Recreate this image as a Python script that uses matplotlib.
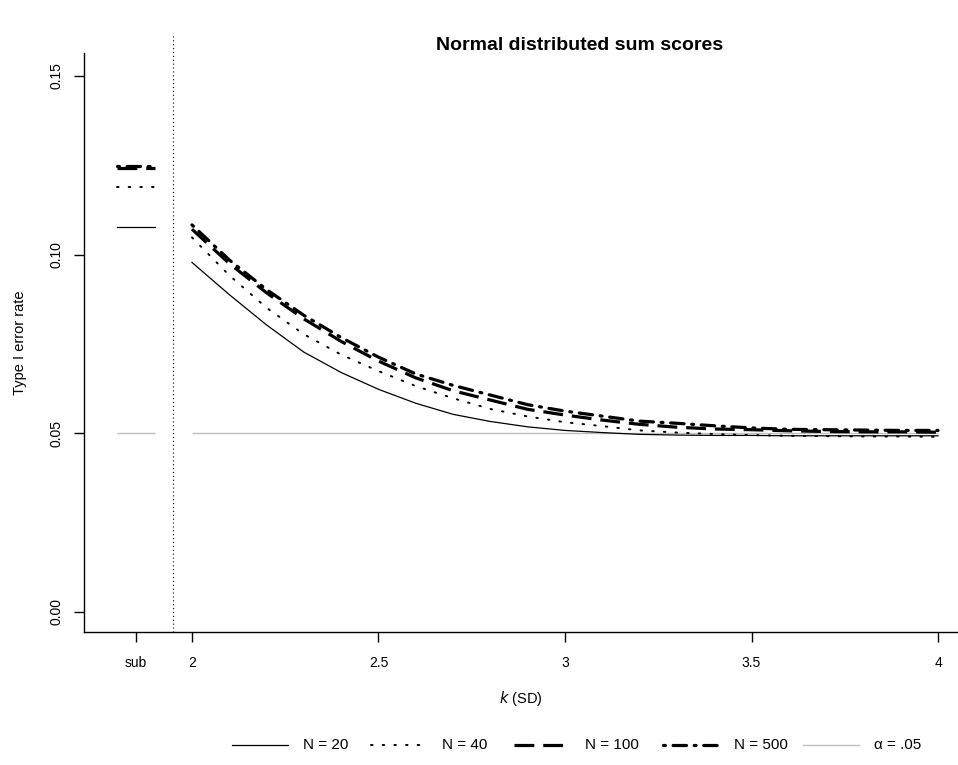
import numpy as np
import matplotlib
matplotlib.use("Agg")
import matplotlib.pyplot as plt
from matplotlib.lines import Line2D

plt.rcParams['font.family'] = ['Liberation Sans', 'DejaVu Sans']

# cut-off values k (in SD units)
k = [2.0, 2.1, 2.2, 2.3, 2.4, 2.5, 2.6, 2.7, 2.8, 2.9, 3.0,
     3.1, 3.2, 3.3, 3.4, 3.5, 3.6, 3.7, 3.8, 3.9, 4.0]

# type I error rates per sample size
err_n20 = [0.0978, 0.0888, 0.0803, 0.0727, 0.0670, 0.0623, 0.0584, 0.0553, 0.0533, 0.0518, 0.0508,
           0.0502, 0.0497, 0.0495, 0.0494, 0.0494, 0.0493, 0.0493, 0.0493, 0.0493, 0.0493]
err_n40 = [0.1048, 0.0942, 0.0851, 0.0777, 0.0720, 0.0674, 0.0632, 0.0598, 0.0568, 0.0547, 0.0531,
           0.0520, 0.0508, 0.0502, 0.0498, 0.0495, 0.0493, 0.0492, 0.0491, 0.0491, 0.0490]
err_n100 = [0.1071, 0.0975, 0.0893, 0.0820, 0.0757, 0.0702, 0.0655, 0.0619, 0.0593, 0.0567, 0.0551,
            0.0537, 0.0525, 0.0517, 0.0512, 0.0510, 0.0507, 0.0505, 0.0504, 0.0504, 0.0503]
err_n500 = [0.1083, 0.0985, 0.0902, 0.0830, 0.0768, 0.0713, 0.0666, 0.0634, 0.0607, 0.0580, 0.0562,
            0.0548, 0.0534, 0.0528, 0.0521, 0.0515, 0.0511, 0.0510, 0.0509, 0.0508, 0.0508]

# sub-scale based rule ("sub")
sub_err = {'N = 20': 0.1078, 'N = 40': 0.1188, 'N = 100': 0.1241, 'N = 500': 0.1249}
alpha = 0.05

sub_pos = 1.85
sub_half = 0.052
sep_pos = 1.95

styles = {
    'N = 20': dict(color='black', lw=0.9, ls='-'),
    'N = 40': dict(color='black', lw=1.4, ls=(0, (0.8, 5.2)), dash_capstyle='round'),
    'N = 100': dict(color='black', lw=2.3, ls=(0, (6.2, 2.8))),
    'N = 500': dict(color='black', lw=2.3, ls=(0, (0.6, 2.4, 4.2, 2.4)), dash_capstyle='round'),
}
alpha_style = dict(color='#bebebe', lw=1.0)
series = {'N = 20': err_n20, 'N = 40': err_n40, 'N = 100': err_n100, 'N = 500': err_n500}

W, H = 958, 765
fig = plt.figure(figsize=(W / 100, H / 100), dpi=100)
ax = fig.add_axes([84 / W, 1 - 632 / H, 1 - 84 / W, (632 - 53) / H])

# reference line at nominal alpha
ax.hlines(alpha, k[0], k[-1], **alpha_style)
ax.hlines(alpha, sub_pos - sub_half, sub_pos + sub_half, **alpha_style)

for name, vals in series.items():
    ax.plot(k, vals, **styles[name])
    ax.plot([sub_pos - sub_half, sub_pos + sub_half], [sub_err[name]] * 2, **styles[name])

ax.axvline(sep_pos, ymin=0, ymax=(632 - 33) / (632 - 53), color='black', lw=0.8,
           ls=(0, (1, 2.5)), clip_on=False)

ax.set_xlim(1.7105, 4.0536)
ax.set_ylim(-0.0056, 0.1564)

ax.set_xticks([sub_pos, 2, 2.5, 3, 3.5, 4])
ax.set_xticklabels(['sub', '2', '2.5', '3', '3.5', '4'])
ax.set_yticks([0.0, 0.05, 0.10, 0.15])
ax.set_yticklabels(['0.00', '0.05', '0.10', '0.15'], rotation=90, va='center')

for side in ('top', 'right'):
    ax.spines[side].set_visible(False)
for side in ('left', 'bottom'):
    ax.spines[side].set_linewidth(1.0)
ax.tick_params(length=7, width=1.0, labelsize=10, pad=10)
ax.tick_params(axis='y', pad=8)

ax.set_xlabel(r'$\it{k}$ (SD)', fontsize=10.5, labelpad=14)
ax.set_ylabel('Type I error rate', fontsize=10.5, labelpad=16)
fig.text(580 / W, 1 - 46 / H, 'Normal distributed sum scores', ha='center', va='center',
         fontsize=14, fontweight='bold')

# legend row drawn by hand below the plot
leg_y = 1 - 745 / H
line_x = [232, 371, 514, 663, 803]
leg_styles = [styles[n] for n in series] + [alpha_style]
leg_labels = list(series) + ['α = .05']
for x0, st, lab in zip(line_x, leg_styles, leg_labels):
    fig.add_artist(Line2D([x0 / W, (x0 + 56) / W], [leg_y, leg_y], **st))
    fig.text((x0 + 71) / W, leg_y, lab, ha='left', va='center', fontsize=11)

fig.savefig('out.png', dpi=100)
